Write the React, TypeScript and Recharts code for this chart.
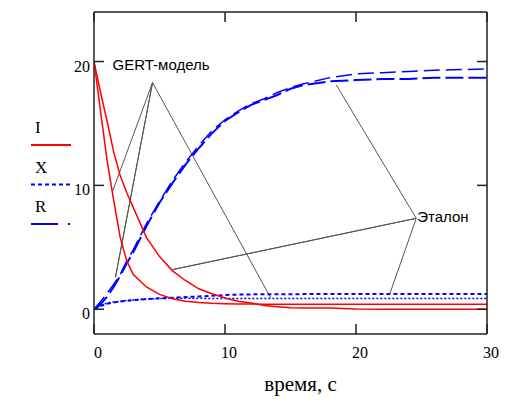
import React from 'react';
import { LineChart, Line, XAxis, YAxis, ReferenceDot } from 'recharts';

// time, s
const T = [0, 0.5, 1, 1.5, 2, 2.5, 3, 4, 5, 6, 7, 8, 9, 10, 11, 12, 13, 14, 15, 16, 18, 20, 22, 24, 26, 28, 30];

// I - two red curves (GERT model / reference)
const I_FAST = [20, 16, 12, 8.8, 5.8, 3.9, 2.8, 1.8, 1.2, 0.85, 0.65, 0.55, 0.48, 0.45, 0.43, 0.42, 0.41, 0.4, 0.4, 0.4, 0.4, 0.4, 0.4, 0.4, 0.4, 0.4, 0.4];
const I_SLOW = [20, 17.5, 15.2, 12.7, 10.8, 9.4, 8.2, 5.8, 4.25, 3.1, 2.3, 1.65, 1.25, 0.9, 0.65, 0.5, 0.3, 0.2, 0.12, 0.1, 0.1, 0.02, 0, 0, 0, 0, 0];

// X - blue dotted
const X_UP = [0, 0.25, 0.45, 0.55, 0.62, 0.68, 0.73, 0.82, 0.88, 0.93, 0.98, 1.03, 1.08, 1.15, 1.18, 1.2, 1.2, 1.21, 1.21, 1.22, 1.22, 1.22, 1.22, 1.22, 1.22, 1.22, 1.22];
const X_LOW = [0, 0.3, 0.5, 0.58, 0.64, 0.7, 0.75, 0.82, 0.86, 0.88, 0.88, 0.88, 0.87, 0.87, 0.87, 0.87, 0.87, 0.87, 0.87, 0.87, 0.87, 0.87, 0.87, 0.87, 0.87, 0.87, 0.87];

// R - blue long dash
const R_UP = [0, 0.6, 1.3, 2.0, 2.8, 3.9, 4.8, 6.9, 8.7, 10.4, 11.9, 13.2, 14.4, 15.3, 16.0, 16.6, 17.0, 17.5, 17.9, 18.2, 18.7, 19.0, 19.1, 19.2, 19.3, 19.35, 19.4];
const R_LOW = [0, 0.4, 1.0, 1.8, 2.7, 3.7, 4.6, 6.7, 8.6, 10.2, 11.7, 13.0, 14.2, 15.2, 15.9, 16.5, 16.9, 17.3, 17.8, 18.1, 18.4, 18.5, 18.6, 18.6, 18.7, 18.7, 18.7];

// callout leader lines (vertex repeated so one polyline covers all branches)
const GERT_T = [1.41, 4.47, 1.64, 4.47, 13.5];
const GERT_V = [9.5, 18.3, 2.58, 18.3, 0.89];
const ETALON_T = [18.5, 24.6, 6.0, 24.6, 22.6];
const ETALON_V = [18.1, 7.34, 3.2, 7.34, 1.3];

const NOTE_TEXT = ['GERT-модель', 'Эталон'];
const NOTE_T = [1.49, 24.75];
const NOTE_V = [19.6, 7.34];

const X_TICKS = [0, 10, 20, 30];
const Y_TICKS = [0, 10, 20];

const rows = T.map((t, i) => ({
  t,
  iFast: I_FAST[i],
  iSlow: I_SLOW[i],
  xUp: X_UP[i],
  xLow: X_LOW[i],
  rUp: R_UP[i],
  rLow: R_LOW[i],
}));
const gertRows = GERT_T.map((t, i) => ({ t, v: GERT_V[i] }));
const etalonRows = ETALON_T.map((t, i) => ({ t, v: ETALON_V[i] }));

const SERIF = '"Liberation Serif", "Times New Roman", serif';
const SANS = '"Liberation Sans", Arial, sans-serif';
const INK = '#222';

// negative tickSize -> tick marks point into the plot (like the Mathcad frame)
const IN_TICK = -10;

const LeftTick = (p: any) => (
  <text x={p.x} y={p.y + 10} textAnchor="end" fontFamily={SERIF} fontSize={16} fill="#000">{p.payload.value}</text>
);
const BottomTick = (p: any) => (
  <text x={p.x + 4} y={p.y + 24} textAnchor="middle" fontFamily={SERIF} fontSize={16} fill="#000">{p.payload.value}</text>
);
const NoTick = () => null;

const AxisTitle = ({ viewBox }: any) => (
  <text x={viewBox.x + viewBox.width / 2 + 10} y={viewBox.y + 57} textAnchor="middle" fontFamily={SERIF} fontSize={21} fill="#000">
    время, с
  </text>
);

const NoteLabel = ({ viewBox, text }: any) => (
  <text x={viewBox.x} y={viewBox.y + 5} fontFamily={SANS} fontSize={15} fill="#000">{text}</text>
);

const LEGEND = [
  { name: 'I', color: '#ff0000', dash: undefined, width: 2 },
  { name: 'X', color: '#0000ff', dash: '4 3', width: 2 },
  { name: 'R', color: '#0000ff', dash: '27 10 2 10', width: 2 },
];

const axisLine = { stroke: INK, strokeWidth: 1.5 };
const tickLine = { stroke: INK, strokeWidth: 1.5 };

export default function App() {
  return (
    <div style={{ position: 'absolute', left: 0, top: 0, width: 505, height: 413, background: '#fff' }}>
      <LineChart width={505} height={413} data={rows} margin={{ top: 11, right: 17, bottom: 0, left: 0 }}>
        <XAxis dataKey="t" type="number" domain={[0, 30]} ticks={X_TICKS} allowDataOverflow
          height={79} tickSize={IN_TICK} tickMargin={10} tickLine={tickLine} axisLine={axisLine}
          tick={<BottomTick />} label={<AxisTitle />} />
        <XAxis xAxisId="top" orientation="top" dataKey="t" type="number" domain={[0, 30]} ticks={X_TICKS} allowDataOverflow
          height={1} tickSize={IN_TICK} tickMargin={0} tickLine={tickLine} axisLine={axisLine} tick={<NoTick />} />
        <YAxis type="number" domain={[-2, 24]} ticks={Y_TICKS} allowDataOverflow
          width={94} tickSize={IN_TICK} tickMargin={14} tickLine={tickLine} axisLine={axisLine} tick={<LeftTick />} />
        <YAxis yAxisId="right" orientation="right" type="number" domain={[-2, 24]} ticks={Y_TICKS} allowDataOverflow
          width={1} tickSize={IN_TICK} tickMargin={0} tickLine={tickLine} axisLine={axisLine} tick={<NoTick />} />

        <Line data={gertRows} dataKey="v" xAxisId="top" yAxisId="right" stroke="#555" strokeWidth={1} dot={false} activeDot={false} isAnimationActive={false} />
        <Line data={etalonRows} dataKey="v" xAxisId="top" yAxisId="right" stroke="#555" strokeWidth={1} dot={false} activeDot={false} isAnimationActive={false} />

        <Line dataKey="xUp" stroke="#0000ff" strokeWidth={2} strokeDasharray="4 3" dot={false} activeDot={false} isAnimationActive={false} />
        <Line dataKey="xLow" stroke="#0000ff" strokeWidth={1.5} strokeDasharray="2 2" dot={false} activeDot={false} isAnimationActive={false} />
        <Line dataKey="rUp" stroke="#0000ff" strokeWidth={1.5} strokeDasharray="16 6" dot={false} activeDot={false} isAnimationActive={false} />
        <Line dataKey="rLow" stroke="#0000ff" strokeWidth={2} strokeDasharray="18 5" dot={false} activeDot={false} isAnimationActive={false} />
        <Line dataKey="iFast" stroke="#ff0000" strokeWidth={1.5} dot={false} activeDot={false} isAnimationActive={false} />
        <Line dataKey="iSlow" stroke="#ff0000" strokeWidth={1.5} dot={false} activeDot={false} isAnimationActive={false} />

        {NOTE_TEXT.map((text, i) => (
          <ReferenceDot key={text} x={NOTE_T[i]} y={NOTE_V[i]} r={1} fill="none" stroke="none"
            label={<NoteLabel text={text} />} />
        ))}
      </LineChart>

      <svg width={100} height={240} style={{ position: 'absolute', left: 0, top: 0, pointerEvents: 'none' }}>
        {LEGEND.map((item, i) => {
          const base = 133 + i * 39.5;
          return (
            <g key={item.name}>
              <text x={35} y={base} fontFamily={SERIF} fontSize={17} fill="#000">{item.name}</text>
              <line x1={31} x2={71} y1={base + 12} y2={base + 12} stroke={item.color}
                strokeWidth={item.width} strokeDasharray={item.dash} />
            </g>
          );
        })}
      </svg>
    </div>
  );
}
